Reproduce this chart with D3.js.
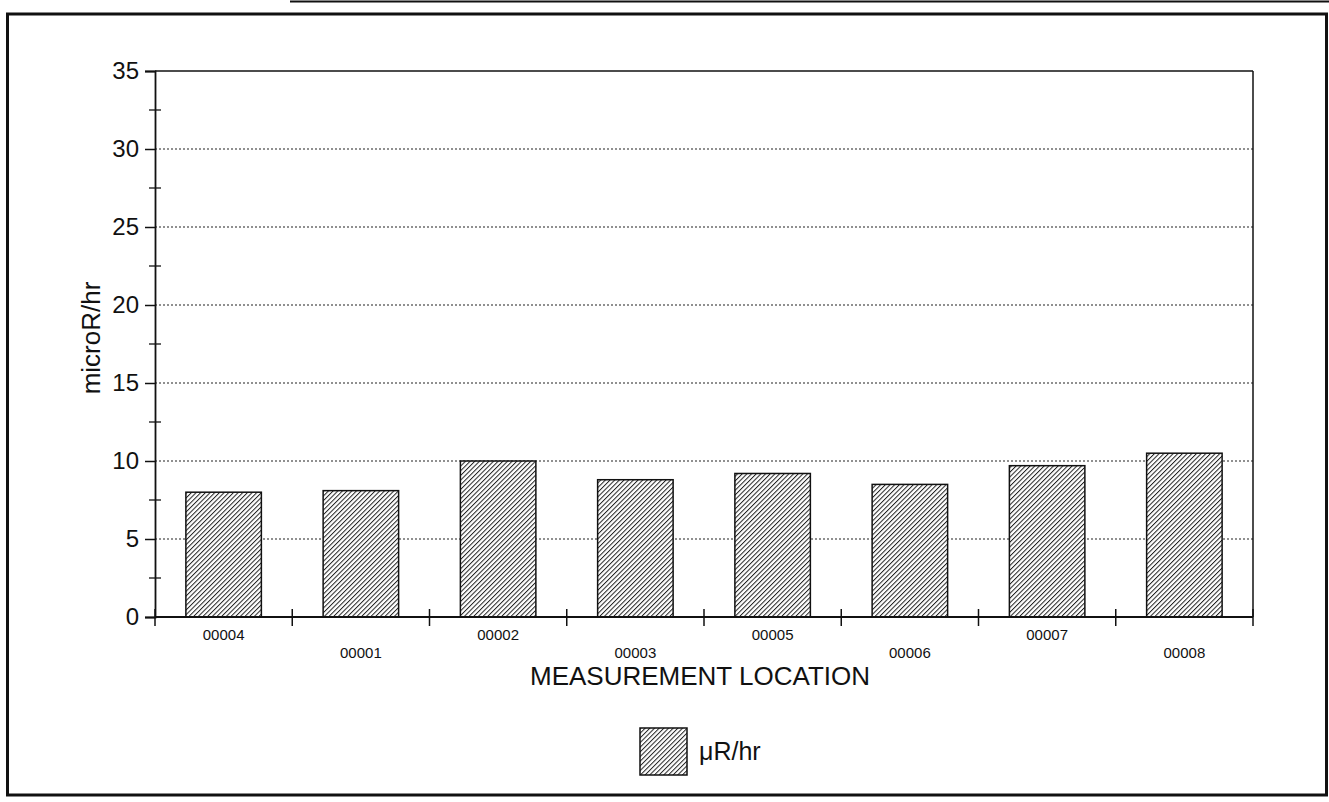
<!DOCTYPE html>
<html>
<head>
<meta charset="utf-8">
<script src="https://cdn.jsdelivr.net/npm/d3@7"></script>
<style>
    body { margin: 0; background: #fff; }
    text { font-family: "Liberation Sans", Arial, sans-serif; fill: #111; }
</style>
</head>
<body>
<div id="chart"></div>
<script>
var locations = ["00004", "00001", "00002", "00003", "00005", "00006", "00007", "00008"];
var readings = [8.0, 8.1, 10.0, 8.8, 9.2, 8.5, 9.7, 10.5];
var yTicks = [0, 5, 10, 15, 20, 25, 30, 35];
var yMinorTicks = [2.5, 7.5, 12.5, 17.5, 22.5, 27.5, 32.5];
var seriesName = "\u03bcR/hr";

var W = 1329, H = 802;
var margin = {top: 71, right: 76, bottom: 185, left: 155},
    width = W - margin.left - margin.right,
    height = H - margin.top - margin.bottom;

var svg = d3.select("#chart").append("svg")
    .attr("width", W)
    .attr("height", H);

// hatch pattern
var defs = svg.append("defs");
var pat = defs.append("pattern")
    .attr("id", "hatch")
    .attr("patternUnits", "userSpaceOnUse")
    .attr("width", 3.3)
    .attr("height", 3.3)
    .attr("patternTransform", "rotate(45)");
pat.append("rect").attr("width", 3.3).attr("height", 3.3).attr("fill", "#fff");
pat.append("line")
    .attr("x1", 0).attr("y1", 0).attr("x2", 0).attr("y2", 3.3)
    .attr("stroke", "#222").attr("stroke-width", 2);

// outer frame
svg.append("line")
    .attr("x1", 290).attr("x2", W).attr("y1", 1.5).attr("y2", 1.5)
    .attr("stroke", "#111").attr("stroke-width", 2);
svg.append("rect")
    .attr("x", 7.5).attr("y", 14)
    .attr("width", 1319).attr("height", 781)
    .attr("fill", "none")
    .attr("stroke", "#111")
    .attr("stroke-width", 3);

var g = svg.append("g")
    .attr("transform", "translate(" + margin.left + "," + margin.top + ")");

var x = d3.scaleBand()
    .domain(locations)
    .range([0, width])
    .paddingInner(0.45)
    .paddingOuter(0.225);

var y = d3.scaleLinear()
    .domain([0, 35])
    .range([height, 0]);

// gridlines
g.selectAll(".grid")
    .data(yTicks.filter(function(d) { return d > 0 && d < 35; }))
    .enter().append("line")
    .attr("class", "grid")
    .attr("x1", 0).attr("x2", width)
    .attr("y1", function(d) { return y(d); })
    .attr("y2", function(d) { return y(d); })
    .attr("stroke", "#222")
    .attr("stroke-width", 1.2)
    .attr("stroke-dasharray", "2,2");

// plot box top and right
g.append("line")
    .attr("x1", 0).attr("x2", width).attr("y1", 0).attr("y2", 0)
    .attr("stroke", "#111").attr("stroke-width", 1.5);
g.append("line")
    .attr("x1", width).attr("x2", width).attr("y1", 0).attr("y2", height)
    .attr("stroke", "#111").attr("stroke-width", 1.5);

// bars
g.selectAll(".bar")
    .data(readings)
    .enter().append("rect")
    .attr("class", "bar")
    .attr("x", function(d, i) { return x(locations[i]); })
    .attr("width", x.bandwidth())
    .attr("y", function(d) { return y(d); })
    .attr("height", function(d) { return height - y(d); })
    .attr("fill", "url(#hatch)")
    .attr("stroke", "#111")
    .attr("stroke-width", 1.5);

// y axis
var yAxis = g.append("g")
    .call(d3.axisLeft(y).tickValues(yTicks).tickSize(10).tickPadding(6));
yAxis.select(".domain").attr("stroke", "#111").attr("stroke-width", 1.8);
yAxis.selectAll(".tick line").attr("stroke", "#111").attr("stroke-width", 1.5);
yAxis.selectAll("text")
    .style("font-size", "24px")
    .style("font-family", "Liberation Sans, Arial, sans-serif")
    .attr("fill", "#111");

g.selectAll(".yminor")
    .data(yMinorTicks)
    .enter().append("line")
    .attr("class", "yminor")
    .attr("x1", -6).attr("x2", 6)
    .attr("y1", function(d) { return y(d); })
    .attr("y2", function(d) { return y(d); })
    .attr("stroke", "#111").attr("stroke-width", 1.3);

// x axis
g.append("line")
    .attr("x1", 0).attr("x2", width).attr("y1", height).attr("y2", height)
    .attr("stroke", "#111").attr("stroke-width", 1.8);

var bounds = locations.slice(1).map(function(d) {
    return x(d) - x.step() * x.paddingInner() / 2;
});
bounds.unshift(0);
bounds.push(width);

g.selectAll(".xtick")
    .data(bounds)
    .enter().append("line")
    .attr("class", "xtick")
    .attr("x1", function(d) { return d; })
    .attr("x2", function(d) { return d; })
    .attr("y1", height - 8)
    .attr("y2", height + 9)
    .attr("stroke", "#111").attr("stroke-width", 1.5);

g.selectAll(".xlabel")
    .data(locations)
    .enter().append("text")
    .attr("class", "xlabel")
    .attr("x", function(d) { return x(d) + x.bandwidth() / 2; })
    .attr("y", function(d, i) { return height + (i % 2 === 0 ? 23 : 41); })
    .attr("text-anchor", "middle")
    .style("font-size", "15px")
    .text(function(d) { return d; });

// axis titles
g.append("text")
    .attr("x", width / 2 - 4)
    .attr("y", height + 68)
    .attr("text-anchor", "middle")
    .style("font-size", "26px")
    .text("MEASUREMENT LOCATION");

svg.append("text")
    .attr("transform", "translate(100," + 338 + ") rotate(-90)")
    .attr("text-anchor", "middle")
    .style("font-size", "26px")
    .text("microR/hr");

// legend
var legend = svg.append("g")
    .attr("transform", "translate(640,728)");
legend.append("rect")
    .attr("width", 47).attr("height", 47)
    .attr("fill", "url(#hatch)")
    .attr("stroke", "#111")
    .attr("stroke-width", 1.5);
legend.append("text")
    .attr("x", 59).attr("y", 32)
    .style("font-size", "25px")
    .text(seriesName);
</script>
</body>
</html>
